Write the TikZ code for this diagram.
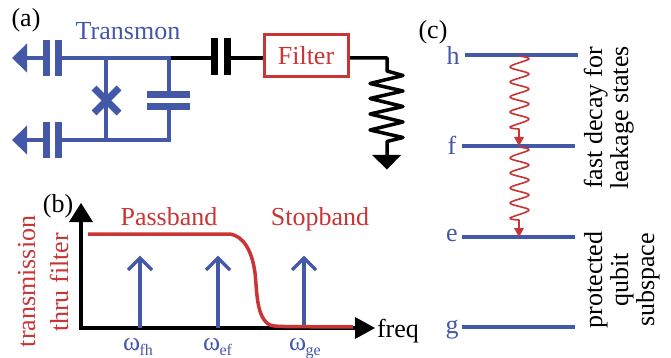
\documentclass[tikz,border=0pt]{standalone}
\usepackage{fontspec}
\setmainfont{Liberation Serif}
\definecolor{qblue}{HTML}{4458A8}
\definecolor{qred}{HTML}{C93434}
\newcommand{\bigtxt}{\fontsize{26}{28}\selectfont}
\newcommand{\subtxt}{\fontsize{16}{18}\selectfont}
\tikzset{
  x=1pt,y=-1pt,
  lbl/.style={inner sep=0pt,outer sep=0pt,font=\bigtxt,anchor=base},
  bluelbl/.style={lbl,text=qblue},
  redlbl/.style={lbl,text=qred},
  bwire/.style={draw=qblue,line width=3.5pt},
  kwire/.style={draw=black,line width=3.5pt},
  bplate/.style={draw=qblue,line width=7pt},
  kplate/.style={draw=black,line width=7pt},
  level/.style={draw=qblue,line width=3.8pt},
  wave/.style={draw=qred,line width=1.6pt,line join=round},
  sig/.style={draw=qblue,line width=3.5pt},
}
\begin{document}
\begin{tikzpicture}
\useasboundingbox (0,0) rectangle (671,358);
% panel labels
\node[lbl] (la) at (26,27) {(a)};
\node[lbl] (lb) at (58,212) {(b)};
\node[lbl] (lc) at (433,39) {(c)};
% (a) transmon
\node[bluelbl] (tm) at (128,40) {Transmon};
\coordinate (tl) at (62,58); \coordinate (tr) at (170.5,58);
\coordinate (bl) at (62,140); \coordinate (br) at (170.5,140);
\coordinate (jt) at (106,58); \coordinate (jb) at (106,140);
\draw[bwire] (tl) -- (tr);
\draw[bwire] (bl) -- (br);
\draw[bwire] (jt) -- (jb);
\draw[bwire] (169,58) -- (169,93);
\draw[bwire] (169,107) -- (169,141.7);
\draw[bplate] (147,94.5) -- (190,94.5);
\draw[bplate] (147,106.5) -- (190,106.5);
\draw[bplate] (94,88) -- (119,113);
\draw[bplate] (119,88) -- (94,113);
\foreach \y/\n in {58/t,140/b}{
  \fill[qblue] (12,\y) -- (27,\y-14.5) -- (27,\y+14.5) -- cycle;
  \draw[bwire] (27,\y) -- (46,\y);
  \draw[bplate] (46,\y-18) -- (46,\y+18);
  \draw[bplate] (58.5,\y-18) -- (58.5,\y+18);
}
% black line, capacitor, filter, resistor
\node[draw=qred,line width=3.2pt,minimum width=84pt,minimum height=42.5pt,inner sep=0pt] (filt) at (306.5,55.5) {};
\node[redlbl] (ft) at (306,65) {Filter};
\coordinate (c1) at (214.5,58);
\coordinate (c2) at (227.5,58);
\draw[kwire] (tr) -- (c1);
\draw[kwire] (c2) -- (filt.west |- c2);
\draw[kplate] (214.5,38) -- (214.5,75);
\draw[kplate] (227.5,38) -- (227.5,75);
\coordinate (rt) at (387,71);
\coordinate (gt) at (387,155);
\draw[kwire,line join=round] (filt.east |- c2) -- (387,58) -- (rt) -- (403,75.5) -- (370,83.5) -- (403,91) -- (370,98.5) -- (403,106.5) -- (370,114) -- (403,122) -- (370,130) -- (403,137.5) -- (387,141.5) -- (gt);
\fill (372,155) -- (401,155) -- (387,169.5) -- cycle;
% (b) axes
\coordinate (o) at (81,328);
\draw[kwire] (81,222) -- (o) -- (356,328);
\fill (81,203) -- (93,222) -- (69,222) -- cycle;
\fill (375,328) -- (355,317) -- (355,339) -- cycle;
\node[lbl,anchor=base west] (fq) at (377,337) {freq};
\node[redlbl,rotate=90] (t1) at (35,281.5) {transmission};
\node[redlbl,rotate=90] (t2) at (68,282.5) {thru filter};
\node[redlbl] (pb) at (169,225) {Passband};
\node[redlbl] (sb) at (320,225) {Stopband};
% signal arrows
\foreach \x in {140,218,304}{
  \draw[sig] (\x,328) -- (\x,258);
  \draw[sig] (\x-12,270) -- (\x,258) -- (\x+12,270);
}
\draw[qred,line width=3.5pt] (88,234) -- (230,234) .. controls (243,236) and (252,250) .. (255,273) .. controls (257,290) and (256,318) .. (270,325) .. controls (275,327) and (285,326.5) .. (353,327);
\node[lbl,text=qblue,anchor=base west] (w1) at (123,350) {ω\kern-0.5pt\raisebox{-5pt}{\subtxt fh}};
\node[lbl,text=qblue,anchor=base west] (w2) at (203,350) {ω\kern-0.5pt\raisebox{-5pt}{\subtxt ef}};
\node[lbl,text=qblue,anchor=base west] (w3) at (289,350) {ω\kern-0.5pt\raisebox{-5pt}{\subtxt ge}};
% (c) levels
\coordinate (h1) at (465,55); \coordinate (h2) at (578,55);
\coordinate (f1) at (462,146); \coordinate (f2) at (575,146);
\coordinate (e1) at (462,237); \coordinate (e2) at (575,237);
\coordinate (g1) at (462,327); \coordinate (g2) at (575,327);
\draw[level] (h1) -- (h2);
\draw[level] (f1) -- (f2);
\draw[level] (e1) -- (e2);
\draw[level] (g1) -- (g2);
\node[bluelbl] (nh) at (453,65) {h};
\node[bluelbl] (nf) at (452,155) {f};
\node[bluelbl] (ne) at (452,241) {e};
\node[bluelbl] (ng) at (452,333) {g};
% decay
\foreach \s in {57,148}{
  \draw[wave] plot[smooth,tension=0.55] coordinates {(519,\s-1) (529,\s+2) (510,\s+10) (529,\s+17) (510,\s+25) (529,\s+32) (510,\s+40) (529,\s+47) (510,\s+55) (529,\s+62) (510,\s+70) (519,\s+72)} -- (519,\s+80);
}
\fill[qred] (519,146) -- (514,137) -- (524,137) -- cycle;
\fill[qred] (519,237) -- (514,228) -- (524,228) -- cycle;
% right labels
\node[lbl,rotate=90] (s1) at (602,118) {fast decay for};
\node[lbl,rotate=90] (s2) at (628,118) {leakage states};
\node[lbl,rotate=90] (s3) at (602,280) {protected};
\node[lbl,rotate=90] (s4) at (628,280) {qubit};
\node[lbl,rotate=90] (s5) at (654,280) {subspace};
\end{tikzpicture}
\end{document}
